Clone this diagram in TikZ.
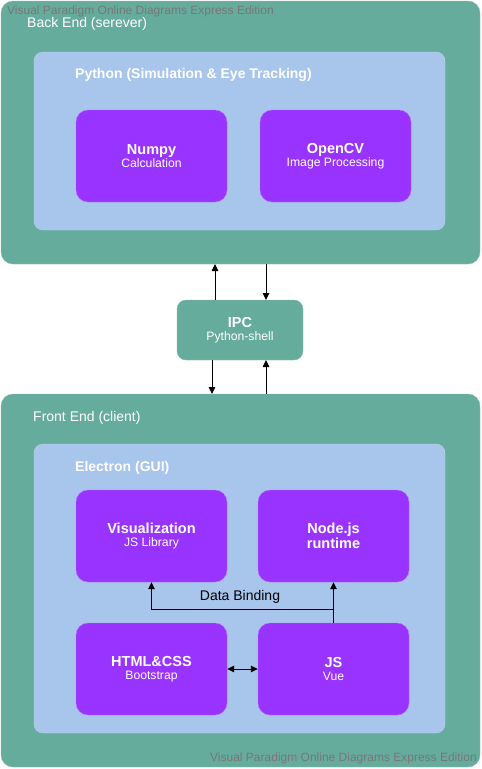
\documentclass[tikz,border=0pt]{standalone}
\usepackage{fontspec}
\setmainfont{Liberation Sans}
\usetikzlibrary{arrows.meta}
\definecolor{teal}{HTML}{66AC9D}
\definecolor{lblue}{HTML}{A8C5EB}
\definecolor{purp}{HTML}{9933FF}
\definecolor{wm}{HTML}{777777}
\newcommand{\ct}[1]{\textbf{\fontsize{14.5}{15}\selectfont #1}}
\newcommand{\cs}[1]{{\fontsize{12.2}{13}\selectfont #1}}
\begin{document}
\begin{tikzpicture}[x=1pt,y=-1pt,
  outer/.style={fill=teal,draw=teal!80!white,rounded corners=12pt},
  inner/.style={fill=lblue,draw=lblue!80!white,rounded corners=9pt},
  comp/.style={fill=purp,draw=purp!70!white,rounded corners=12pt,text=white,align=center,minimum width=151pt,minimum height=92pt,inner sep=0pt},
  ipcbox/.style={fill=teal,draw=teal!80!white,rounded corners=9pt,text=white,align=center,inner sep=0pt},
  ttl/.style={text=white,anchor=west,inner sep=0pt,font=\fontsize{14}{16}\selectfont},
  ttlb/.style={text=white,anchor=west,inner sep=0pt,font=\bfseries\fontsize{14}{16}\selectfont},
  wmark/.style={text=wm,anchor=west,inner sep=0pt,font=\fontsize{12}{14}\selectfont},
  tip/.style={Triangle[length=7pt,width=6.5pt]},
  arr/.style={-{Triangle[length=7pt,width=6.5pt]},line width=0.9pt}]
\useasboundingbox (0,0) rectangle (482,769);
% Back end
\path[outer] (1,1) rectangle (480,264);
\node[ttl] (be) at (27,24) {Back End (serever)};
\path[inner] (34,52) rectangle (445,230);
\node[ttlb] (py) at (75,75) {Python (Simulation \& Eye Tracking)};
\node[comp] (np) at (151.5,156) {\ct{Numpy}\\[1pt]\cs{Calculation}};
\node[comp] (cv) at (335.5,156) {\ct{OpenCV}\\[1pt]\cs{Image Processing}};
% IPC
\node[ipcbox,minimum width=126pt,minimum height=60pt] (ipc) at (240,330) {\ct{IPC}\\[1pt]\cs{Python-shell}};
% Front end
\path[outer] (1,394) rectangle (480,767);
\node[ttl] (fe) at (33,418) {Front End (client)};
\path[inner] (34,444) rectangle (445,733);
\node[ttlb] (el) at (75,468) {Electron (GUI)};
\node[comp] (vis) at (151.5,536) {\ct{Visualization}\\[1pt]\cs{JS Library}};
\node[comp] (nd) at (333.5,536) {\ct{Node.js}\\\ct{runtime}};
\node[comp] (html) at (151.5,669) {\ct{HTML\&CSS}\\[1pt]\cs{Bootstrap}};
\node[comp] (js) at (333.5,669) {\ct{JS}\\[1pt]\cs{Vue}};
% IPC arrows
\coordinate (beb1) at (215,264);
\coordinate (beb2) at (266,264);
\coordinate (fet1) at (212,394);
\coordinate (fet2) at (266,394);
\draw[arr] (215,300) -- (beb1);
\draw[arr] (beb2) -- (266,300);
\draw[arr] (212,360) -- (fet1);
\draw[arr] (fet2) -- (266,360);
% data binding
\draw[arr] (js.north) -- (nd.south);
\draw[arr] (334,609) -| (vis.south);
\node[font=\fontsize{14}{16}\selectfont,text=black,inner sep=0pt] (db) at (240,597) {Data Binding};
\draw[{Triangle[length=7pt,width=6.5pt]}-{Triangle[length=7pt,width=6.5pt]},line width=0.9pt] (html.east) -- (js.west);
% watermarks
\node[wmark] (wm1) at (7,11) {Visual Paradigm Online Diagrams Express Edition};
\node[wmark] (wm2) at (210,758) {Visual Paradigm Online Diagrams Express Edition};
\end{tikzpicture}
\end{document}
